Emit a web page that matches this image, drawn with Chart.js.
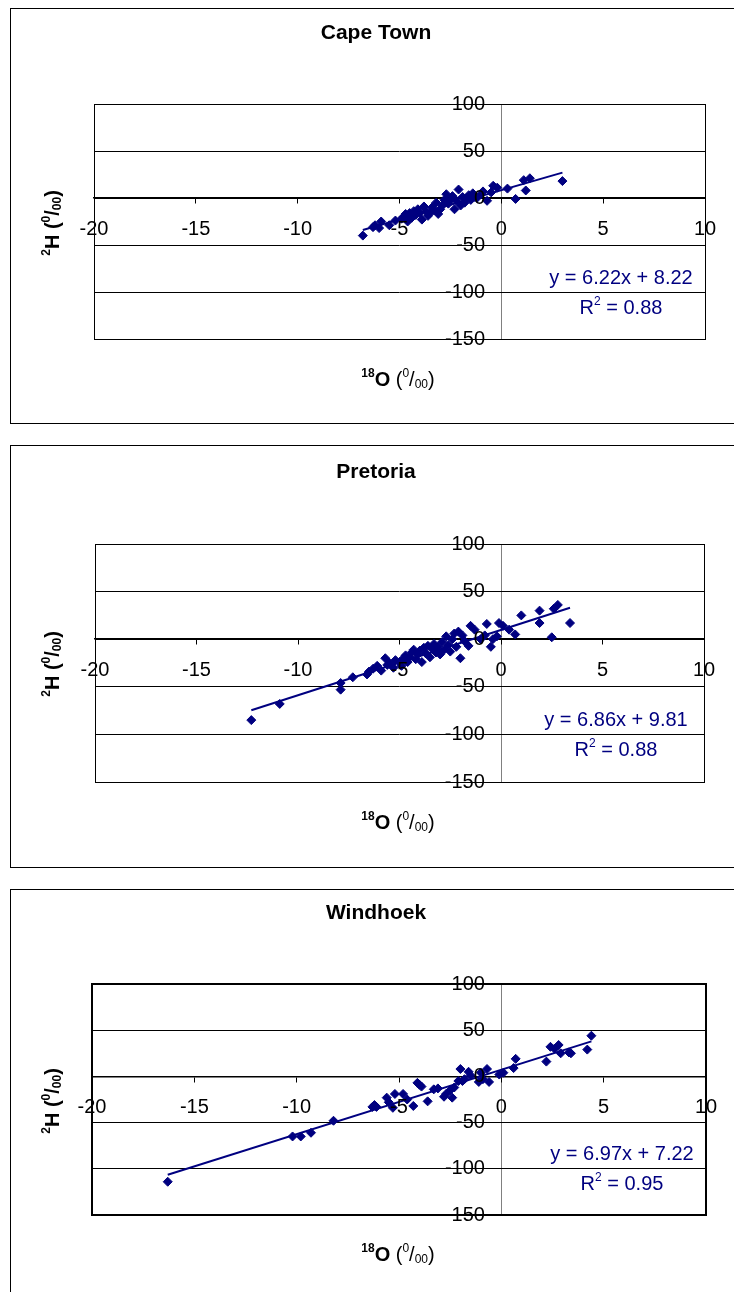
<!DOCTYPE html>
<html>
<head>
<meta charset="utf-8">
<script src="https://cdn.jsdelivr.net/npm/chart.js@4.4.1/dist/chart.umd.min.js"></script>
<style>
  html, body { margin: 0; padding: 0; background: #fff; }
  body { width: 734px; height: 1292px; position: relative; overflow: hidden; }
  .frame { position: absolute; left: 10px; width: 760px; border: 1px solid #000; }
  canvas { position: absolute; left: 0; }
</style>
</head>
<body>
<div class="frame" style="top:8px;height:414px"></div>
<div class="frame" style="top:445px;height:421px"></div>
<div class="frame" style="top:889px;height:440px"></div>
<canvas id="cape" width="734" height="437" style="top:0"></canvas>
<canvas id="pretoria" width="734" height="437" style="top:437px"></canvas>
<canvas id="windhoek" width="734" height="418" style="top:874px"></canvas>
<script>
// --- data (delta 18O vs delta 2H, per mil) ---
const xTicks = [-20, -15, -10, -5, 0, 5, 10];
const yTicks = [-150, -100, -50, 0, 50, 100];

const capeX = [-6.8, -6.3, -6.2, -6.0, -5.9, -5.5, -5.2, -4.9, -4.8, -4.7, -4.6, -4.5, -4.4, -4.3, -4.2, -4.1, -4.0, -3.9, -3.8, -3.7, -3.6, -3.5, -3.4, -3.3, -3.2, -3.1, -3.0, -2.9, -2.8, -2.7, -2.6, -2.5, -2.4, -2.3, -2.2, -2.1, -2.0, -1.9, -1.8, -1.7, -1.6, -1.5, -1.4, -1.3, -1.2, -1.0, -0.9, -0.7, -0.5, -0.4, -0.2, 0.3, 0.7, 1.1, 1.2, 1.4, 3.0];
const capeY = [-40, -31, -29, -32, -25, -29, -24, -22, -20, -17, -25, -16, -21, -14, -18, -12, -16, -23, -9, -14, -19, -16, -10, -13, -5, -17, -12, -8, -2, 4, -6, -2, 2, -12, -3, 9, -8, 1, -5, 0, 3, -2, 5, 1, 0, 4, 7, -3, 6, 13, 11, 10, -1, 19, 8, 21, 18];
const capeTrendX = [-6.8, 3.0];
const capeTrendY = [-34, 27];
const capeEq = 'y = 6.22x + 8.22';
const capeR2 = '0.88';

const pretX = [-12.3, -10.9, -7.9, -7.9, -7.3, -6.6, -6.5, -6.3, -6.1, -5.9, -5.7, -5.6, -5.5, -5.3, -5.2, -5.0, -4.9, -4.8, -4.7, -4.6, -4.5, -4.4, -4.3, -4.2, -4.1, -4.0, -3.9, -3.8, -3.7, -3.6, -3.5, -3.4, -3.3, -3.2, -3.1, -3.0, -2.9, -2.8, -2.7, -2.6, -2.5, -2.4, -2.3, -2.2, -2.1, -2.0, -1.9, -1.8, -1.6, -1.5, -1.3, -1.0, -0.8, -0.7, -0.5, -0.4, -0.2, -0.1, 0.1, 0.4, 0.7, 1.0, 1.9, 1.9, 2.5, 2.6, 2.8, 3.4];
const pretY = [-85, -68, -46, -53, -40, -37, -34, -31, -28, -33, -20, -27, -25, -30, -22, -24, -28, -20, -17, -24, -19, -14, -11, -21, -16, -12, -24, -9, -15, -7, -19, -10, -5, -14, -8, -16, -3, -11, 3, -6, -13, 0, 6, -8, 8, -20, 4, -2, -7, 14, 10, 0, 4, 16, -8, 0, 3, 17, 14, 10, 5, 25, 30, 17, 2, 32, 36, 17];
const pretTrendX = [-12.3, 3.4];
const pretTrendY = [-74.6, 33.1];
const pretEq = 'y = 6.86x + 9.81';
const pretR2 = '0.88';

const windX = [-16.3, -10.2, -9.8, -9.3, -8.2, -6.3, -6.2, -6.1, -5.6, -5.5, -5.3, -5.2, -4.8, -4.6, -4.3, -4.1, -4.0, -3.9, -3.6, -3.3, -3.1, -2.8, -2.7, -2.5, -2.4, -2.3, -2.1, -2.0, -1.9, -1.8, -1.6, -1.5, -1.1, -1.0, -0.9, -0.7, -0.6, -0.1, 0.1, 0.6, 0.7, 2.2, 2.4, 2.6, 2.8, 2.9, 3.3, 3.4, 4.2, 4.4];
const windY = [-114, -65, -65, -61, -48, -33, -31, -33, -23, -28, -34, -19, -19, -25, -32, -7, -9, -11, -27, -14, -13, -22, -19, -15, -23, -12, -5, 8, -5, -3, 5, 1, -6, 4, -3, 8, -6, 2, 4, 9, 19, 16, 32, 30, 34, 25, 26, 25, 29, 44];
const windTrendX = [-16.3, 4.4];
const windTrendY = [-106.4, 37.9];
const windEq = 'y = 6.97x + 7.22';
const windR2 = '0.95';

const NAVY = '#000080';
const FONT = '"Liberation Sans", Arial, sans-serif';

// draws a row of text pieces (for super/subscripts), centred on cx
function drawRuns(ctx, runs, cx, cy) {
    let total = 0;
    runs.forEach(r => { ctx.font = r[1]; total += ctx.measureText(r[0]).width; });
    let x = cx - total / 2;
    ctx.textAlign = 'left';
    ctx.textBaseline = 'middle';
    runs.forEach(r => {
        ctx.font = r[1];
        ctx.fillText(r[0], x, cy + r[2]);
        x += ctx.measureText(r[0]).width;
    });
}

const panelText = {
    id: 'panelText',
    beforeDatasetsDraw(chart, args, o) {
        // plot area frame
        const ctx = chart.ctx;
        const a = chart.chartArea;
        ctx.save();
        ctx.strokeStyle = '#000';
        ctx.lineWidth = o.frameWidth;
        const off = o.frameWidth % 2 ? 0.5 : 0;
        ctx.strokeRect(Math.round(a.left) + off, Math.round(a.top) + off,
            Math.round(a.right - a.left), Math.round(a.bottom - a.top));
        ctx.restore();
    },
    afterDraw(chart, args, o) {
        const ctx = chart.ctx;
        const B = 'bold 20px ' + FONT, Bs = 'bold 12px ' + FONT;
        const R = '20px ' + FONT, Rs = '12px ' + FONT;
        ctx.save();
        ctx.fillStyle = '#000';
        ctx.font = 'bold 21px ' + FONT;
        ctx.textAlign = 'center';
        ctx.textBaseline = 'middle';
        ctx.fillText(o.title, o.titleX, o.titleY);

        // y axis title
        ctx.save();
        ctx.translate(o.yTitleX, o.yTitleY);
        ctx.rotate(-Math.PI / 2);
        drawRuns(ctx, [['2', Bs, -6], ['H', B, 0], [' (', B, 0], ['0', Bs, -6], ['/', B, 0], ['00', Bs, 5], [')', B, 0]], 0, 0);
        ctx.restore();

        // x axis title
        drawRuns(ctx, [['18', Bs, -6], ['O', B, 0], [' (', R, 0], ['0', Rs, -6], ['/', R, 0], ['00', Rs, 5], [')', R, 0]], o.xTitleX, o.xTitleY);

        // trend line equation
        ctx.fillStyle = NAVY;
        drawRuns(ctx, [[o.eq, R, 0]], o.eqX, o.eqY);
        drawRuns(ctx, [['R', R, 0], ['2', Rs, -6], [' = ' + o.r2, R, 0]], o.eqX, o.eqY + 30);
        ctx.restore();
    }
};

function makeChart(id, xs, ys, tx, ty, text, padding) {
    return new Chart(document.getElementById(id), {
        type: 'scatter',
        data: {
            datasets: [
                {
                    type: 'line',
                    data: tx.map((x, i) => ({ x: x, y: ty[i] })),
                    borderColor: NAVY,
                    borderWidth: 2,
                    pointRadius: 0,
                    fill: false
                },
                {
                    data: xs.map((x, i) => ({ x: x, y: ys[i] })),
                    pointStyle: 'rectRot',
                    pointRadius: 4.5,
                    backgroundColor: NAVY,
                    borderColor: NAVY,
                    borderWidth: 1
                }
            ]
        },
        options: {
            responsive: false,
            animation: false,
            layout: { padding: padding },
            plugins: {
                legend: { display: false },
                tooltip: { enabled: false },
                panelText: text
            },
            scales: {
                x: {
                    type: 'linear',
                    position: { y: 0 },
                    min: xTicks[0],
                    max: xTicks[xTicks.length - 1],
                    afterBuildTicks: s => { s.ticks = xTicks.map(v => ({ value: v })); },
                    ticks: {
                        font: { family: FONT, size: 20 },
                        color: '#000',
                        padding: 14,
                        maxRotation: 0,
                        autoSkip: false,
                        z: 1
                    },
                    grid: {
                        drawOnChartArea: true,
                        color: c => (c.tick && c.tick.value === 0 ? '#808080' : 'rgba(0,0,0,0)'),
                        tickColor: '#000',
                        tickLength: 5,
                        lineWidth: 1
                    },
                    border: { display: true, color: '#000', width: 1.5 }
                },
                y: {
                    type: 'linear',
                    position: { x: -0.8 },
                    min: yTicks[0],
                    max: yTicks[yTicks.length - 1],
                    afterBuildTicks: s => { s.ticks = yTicks.map(v => ({ value: v })); },
                    ticks: {
                        font: { family: FONT, size: 20 },
                        color: '#000',
                        autoSkip: false,
                        z: 1
                    },
                    grid: {
                        drawOnChartArea: true,
                        drawTicks: false,
                        color: '#000',
                        lineWidth: 1
                    },
                    border: { display: false }
                }
            }
        },
        plugins: [panelText]
    });
}

makeChart('cape', capeX, capeY, capeTrendX, capeTrendY, {
    title: 'Cape Town', titleX: 376, titleY: 33,
    yTitleX: 53, yTitleY: 223, xTitleX: 398, xTitleY: 380,
    eq: capeEq, r2: capeR2, eqX: 621, eqY: 278, frameWidth: 1
}, { left: 94, right: 29, top: 104, bottom: 98 });

makeChart('pretoria', pretX, pretY, pretTrendX, pretTrendY, {
    title: 'Pretoria', titleX: 376, titleY: 35,
    yTitleX: 53, yTitleY: 227, xTitleX: 398, xTitleY: 386,
    eq: pretEq, r2: pretR2, eqX: 616, eqY: 283, frameWidth: 1
}, { left: 95, right: 30, top: 107, bottom: 92 });

makeChart('windhoek', windX, windY, windTrendX, windTrendY, {
    title: 'Windhoek', titleX: 376, titleY: 39,
    yTitleX: 53, yTitleY: 227, xTitleX: 398, xTitleY: 381,
    eq: windEq, r2: windR2, eqX: 622, eqY: 280, frameWidth: 2
}, { left: 92, right: 28, top: 110, bottom: 77 });
</script>
</body>
</html>
